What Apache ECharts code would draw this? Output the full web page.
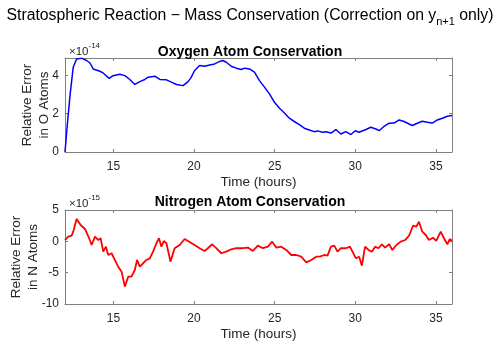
<!DOCTYPE html>
<html>
<head>
<meta charset="utf-8">
<script src="https://cdn.jsdelivr.net/npm/echarts@6/dist/echarts.min.js"></script>
<style>
  html, body { margin: 0; padding: 0; background: #fff; }
  #chart { width: 500px; height: 350px; }
</style>
</head>
<body>
<div id="chart"></div>
<script>
// oxygen error, values in units of 1e-14
const oTime = [12.0, 12.15, 12.31, 12.51, 12.72, 13.03, 13.34, 13.55, 13.75, 13.86, 14.16, 14.36, 14.74, 14.98,
  15.40, 15.71, 16.02, 16.33, 16.64, 16.95, 17.15, 17.57, 17.88, 18.29, 18.60, 18.91, 19.32, 19.63, 19.80,
  20.04, 20.35, 20.66, 20.97, 21.28, 21.59, 21.79, 22.0, 22.31, 22.62, 22.93, 23.13, 23.44, 23.75, 24.06,
  24.37, 24.68, 24.99, 25.30, 25.61, 25.91, 26.22, 26.53, 26.84, 27.15, 27.46, 27.66, 27.97, 28.18, 28.49,
  28.80, 29.11, 29.42, 29.73, 30.0, 30.24, 30.66, 30.97, 31.28, 31.48, 31.79, 32.10, 32.41, 32.72, 33.03,
  33.34, 33.54, 33.85, 34.16, 34.47, 34.78, 35.09, 35.40, 35.71, 36.0];
const oError = [0, 1.5, 2.94, 4.42, 4.85, 4.89, 4.77, 4.64, 4.33, 4.25, 4.21, 4.12, 3.84, 3.98,
  4.05, 3.98, 3.78, 3.52, 3.67, 3.78, 3.90, 3.95, 3.78, 3.76, 3.64, 3.52, 3.46, 3.67, 3.85,
  4.25, 4.51, 4.47, 4.54, 4.59, 4.72, 4.77, 4.68, 4.47, 4.37, 4.30, 4.37, 4.33, 4.16, 3.72,
  3.38, 3.03, 2.59, 2.28, 2.03, 1.76, 1.59, 1.43, 1.24, 1.15, 1.06, 1.10, 1.03, 1.06, 0.99,
  1.17, 0.94, 1.06, 0.91, 1.11, 1.03, 1.17, 1.29, 1.20, 1.11, 1.34, 1.50, 1.51, 1.67, 1.59,
  1.46, 1.38, 1.50, 1.60, 1.55, 1.51, 1.67, 1.76, 1.86, 1.90];

// nitrogen error, values in units of 1e-15
const nTime = [12.0, 12.2, 12.41, 12.51, 12.72, 12.82, 12.97, 13.09, 13.24, 13.34, 13.5, 13.65, 13.86, 14.06,
  14.21, 14.37, 14.54, 14.68, 14.89, 15.09, 15.30, 15.51, 15.71, 15.92, 16.12, 16.33, 16.47, 16.64, 16.84,
  17.05, 17.26, 17.46, 17.67, 17.83, 17.98, 18.12, 18.29, 18.54, 18.80, 19.11, 19.42, 19.73, 20.04, 20.35,
  20.66, 20.86, 21.13, 21.38, 21.69, 22.0, 22.31, 22.62, 23.03, 23.34, 23.65, 23.96, 24.27, 24.58, 24.85,
  25.1, 25.41, 25.72, 26.03, 26.34, 26.65, 26.96, 27.27, 27.58, 27.85, 28.08, 28.28, 28.49, 28.70, 28.90,
  29.11, 29.42, 29.67, 29.83, 30.04, 30.24, 30.41, 30.61, 30.82, 31.03, 31.23, 31.44, 31.65, 31.85, 32.10,
  32.30, 32.55, 32.82, 33.09, 33.34, 33.58, 33.79, 33.95, 34.16, 34.37, 34.57, 34.82, 35.02, 35.30, 35.50,
  35.71, 35.86, 36.0];
const nError = [0.21, 0.74, 0.9, 1.54, 3.56, 3.25, 2.6, 2.87, 1.97, 2.18, 0.49, -0.58, 0.74, 0.21,
  0.49, -1.65, -0.85, -2.18, -1.9, -2.97, -4.04, -4.84, -7.23, -5.64, -5.64, -4.57, -2.97, -4.04, -3.5,
  -2.97, -2.71, -1.65, -0.31, 0.49, -0.85, 0.06, -0.31, -3.24, -1.1, -0.58, 0.37, -0.1, -0.58, -1.1,
  -1.54, -1.1, -0.47, -1.1, -1.9, -1.65, -1.27, -1.1, -1.1, -1.0, -1.54, -0.69, -1.1, -0.85, -0.05,
  -1.0, -0.85, -1.38, -2.18, -2.18, -2.45, -3.35, -2.97, -2.45, -2.4, -2.18, -2.29, -0.85, -0.69, -1.65,
  -1.1, -1.1, -0.85, -1.65, -2.71, -2.45, -3.88, -0.85, -1.38, -1.65, -0.85, -1.1, -0.47, -1.0, -0.47,
  -1.38, -0.58, -0.05, 0.21, 0.9, 2.49, 2.34, 3.13, 1.54, 1.01, 0.21, 0.58, 0.06, 1.54, 0.49,
  -0.47, 0.37, 0.06];

const FONT = "'Liberation Sans', Arial, sans-serif";
const TEXT = '#262626';
const FRAME = '#808080';

const chart = echarts.init(document.getElementById('chart'));

const lineOf = { show: true, onZero: false, lineStyle: { color: FRAME, width: 1 } };
const tickOf = { show: true, inside: true, length: 3, lineStyle: { color: FRAME } };

const frameAxis = (gridIndex, position) => ({
  gridIndex: gridIndex,
  position: position,
  axisLine: lineOf,
  axisTick: tickOf,
  axisLabel: { show: false },
  splitLine: { show: false }
});

const timeAxis = (gridIndex) => ({
  type: 'value',
  gridIndex: gridIndex,
  min: 12,
  max: 36,
  splitNumber: 5,
  name: 'Time (hours)',
  nameLocation: 'middle',
  nameGap: 23,
  nameMoveOverlap: false,
  nameTextStyle: { fontFamily: FONT, fontSize: 13.5, color: TEXT },
  axisLine: lineOf,
  axisTick: tickOf,
  axisLabel: { showMinLabel: false, showMaxLabel: false, margin: 9,
    fontFamily: FONT, fontSize: 12, color: TEXT },
  splitLine: { show: false }
});

const errorAxis = (gridIndex, min, max, interval, name, gap) => ({
  type: 'value',
  gridIndex: gridIndex,
  min: min,
  max: max,
  interval: interval,
  name: name,
  nameLocation: 'middle',
  nameRotate: 90,
  nameGap: gap,
  nameMoveOverlap: false,
  nameTextStyle: { fontFamily: FONT, fontSize: 13.5, lineHeight: 17, color: TEXT },
  axisLine: lineOf,
  axisTick: tickOf,
  axisLabel: { showMaxLabel: max % interval === 0, margin: 6, fontFamily: FONT, fontSize: 12, color: TEXT },
  splitLine: { show: false }
});

const expTitle = (text, top) => ({
  text: text,
  left: 64,
  top: top,
  textStyle: {
    rich: {
      a: { fontFamily: FONT, fontSize: 11.5, fontWeight: 'normal', color: TEXT, lineHeight: 16, verticalAlign: 'bottom' },
      e: { fontFamily: FONT, fontSize: 8, fontWeight: 'normal', color: TEXT, lineHeight: 9, verticalAlign: 'top' }
    }
  }
});

const option = {
  animation: false,
  title: [
    {
      text: '{a|Stratospheric Reaction − Mass Conservation (Correction on y}{s|n+1}{a| only)}',
      left: 'center',
      top: 0,
      textStyle: {
        rich: {
          a: { fontFamily: FONT, fontSize: 15.8, fontWeight: 'normal', color: '#000', lineHeight: 22 },
          s: { fontFamily: FONT, fontSize: 11, fontWeight: 'normal', color: '#000', lineHeight: 12, verticalAlign: 'bottom' }
        }
      }
    },
    {
      text: 'Oxygen Atom Conservation',
      left: 'center',
      top: 40,
      textStyle: { fontFamily: FONT, fontSize: 14, fontWeight: 'bold', color: '#000' }
    },
    {
      text: 'Nitrogen Atom Conservation',
      left: 'center',
      top: 190,
      textStyle: { fontFamily: FONT, fontSize: 14, fontWeight: 'bold', color: '#000' }
    },
    expTitle('{a|×10}{e|-14}', 37),
    expTitle('{a|×10}{e|-15}', 189)
  ],
  grid: [
    { left: 65, top: 58, width: 387, height: 94, outerBoundsMode: 'none', containLabel: false },
    { left: 65, top: 210, width: 387, height: 94, outerBoundsMode: 'none', containLabel: false }
  ],
  xAxis: [
    timeAxis(0),
    Object.assign({ type: 'value', min: 12, max: 36, splitNumber: 5 }, frameAxis(0, 'top')),
    timeAxis(1),
    Object.assign({ type: 'value', min: 12, max: 36, splitNumber: 5 }, frameAxis(1, 'top'))
  ],
  yAxis: [
    errorAxis(0, 0, 4.9, 2, 'Relative Error\nin O Atoms', 12),
    Object.assign({ type: 'value', min: 0, max: 4.9, interval: 2 }, frameAxis(0, 'right')),
    errorAxis(1, -10, 5, 5, 'Relative Error\nin N Atoms', 23),
    Object.assign({ type: 'value', min: -10, max: 5, interval: 5 }, frameAxis(1, 'right'))
  ],
  series: [
    {
      name: 'oxygen',
      type: 'line',
      xAxisIndex: 0,
      yAxisIndex: 0,
      showSymbol: false,
      lineStyle: { color: '#0000ff', width: 1.5 },
      data: oTime.map((t, i) => [t, oError[i]])
    },
    {
      name: 'nitrogen',
      type: 'line',
      xAxisIndex: 2,
      yAxisIndex: 2,
      showSymbol: false,
      lineStyle: { color: '#ff0000', width: 1.8 },
      data: nTime.map((t, i) => [t, nError[i]])
    }
  ]
};

chart.setOption(option);
</script>
</body>
</html>
